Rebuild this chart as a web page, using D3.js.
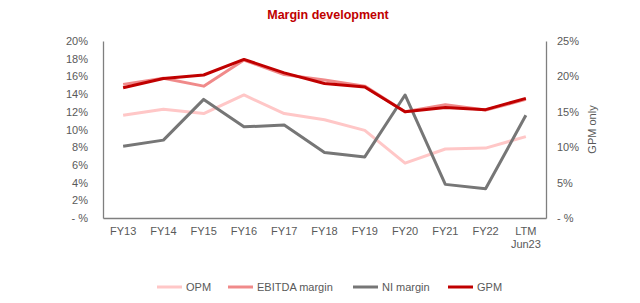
<!DOCTYPE html>
<html>
<head>
<meta charset="utf-8">
<script src="https://cdn.jsdelivr.net/npm/d3@7"></script>
<style>
  html, body { margin: 0; padding: 0; background: #fff; }
  svg { display: block; font-family: "Liberation Sans", Arial, sans-serif; }
</style>
</head>
<body>
<svg id="chart" width="640" height="303"></svg>
<script>
const categories = ["FY13","FY14","FY15","FY16","FY17","FY18","FY19","FY20","FY21","FY22","LTM\nJun23"];
const opm    = [11.6, 12.3, 11.8, 13.9, 11.8, 11.1, 9.9, 6.2, 7.8, 7.9, 9.2];
const ebitda = [15.1, 15.8, 14.9, 17.85, 16.2, 15.6, 14.9, 12.0, 12.8, 12.2, 13.4];
const ni     = [8.1, 8.8, 13.4, 10.3, 10.5, 7.4, 6.9, 13.9, 3.8, 3.3, 11.6];
const gpm    = [18.4, 19.7, 20.2, 22.4, 20.5, 19.0, 18.5, 15.0, 15.6, 15.3, 16.9]; // right axis
const leftTicks  = [0, 2, 4, 6, 8, 10, 12, 14, 16, 18, 20];
const rightTicks = [0, 5, 10, 15, 20, 25];
const seriesNames = ["OPM", "EBITDA margin", "NI margin", "GPM"];

const svg = d3.select("#chart");
const L = 103, R = 546, T = 41, B = 218;
const textColor = "#595959";
const axisColor = "#7f7f7f";

const x = d3.scaleBand().domain(categories).range([L, R]).padding(0);
const cx = c => x(c) + x.bandwidth() / 2;
const yL = d3.scaleLinear().domain([0, 20]).range([B, T]);
const yR = d3.scaleLinear().domain([0, 25]).range([B, T]);
const fmt = v => v === 0 ? "- %" : v + "%";

// title
svg.append("text").attr("x", 328).attr("y", 19).attr("text-anchor", "middle")
  .attr("font-size", 12.5).attr("font-weight", "bold").attr("fill", "#c00000")
  .text("Margin development");

// axes
const gL = svg.append("g").attr("transform", `translate(${L},0)`)
  .call(d3.axisLeft(yL).tickValues(leftTicks).tickFormat(fmt).tickSize(0).tickPadding(15));
const gR = svg.append("g").attr("transform", `translate(${R},0)`)
  .call(d3.axisRight(yR).tickValues(rightTicks).tickFormat(fmt).tickSize(0).tickPadding(11));
const gB = svg.append("g").attr("transform", `translate(0,${B})`)
  .call(d3.axisBottom(x).tickSize(0).tickPadding(9).tickFormat(""));
[gL, gR, gB].forEach(g => {
  g.select(".domain").attr("stroke", axisColor).attr("stroke-width", 1.3);
  g.selectAll("text").attr("fill", textColor).attr("font-size", 11)
    .attr("font-family", "Liberation Sans, Arial, sans-serif");
});
gB.selectAll(".tick").each(function(d) {
  const t = d3.select(this).select("text");
  t.text(null);
  d.split("\n").forEach((s, i) => {
    t.append("tspan").attr("x", 0).attr("dy", i === 0 ? "0.71em" : "1.2em").text(s);
  });
});

// right axis title
svg.append("text").attr("transform", `translate(596,${(T + B) / 2}) rotate(-90)`)
  .attr("text-anchor", "middle").attr("font-size", 11).attr("fill", textColor)
  .text("GPM only");

// lines
const colors = ["#ffc7c7", "#f08a8a", "#767676", "#c00000"];
const datasets = [
  { vals: opm, y: yL },
  { vals: ebitda, y: yL },
  { vals: ni, y: yL },
  { vals: gpm, y: yR }
];
datasets.forEach((ds, i) => {
  const line = d3.line().x((d, j) => cx(categories[j])).y(d => ds.y(d));
  svg.append("path").datum(ds.vals).attr("d", line)
    .attr("fill", "none").attr("stroke", colors[i]).attr("stroke-width", 3)
    .attr("stroke-linejoin", "round");
});

// legend
const legendX = [157, 228, 353, 448];
const ly = 287;
seriesNames.forEach((n, i) => {
  svg.append("line").attr("x1", legendX[i]).attr("x2", legendX[i] + 25)
    .attr("y1", ly).attr("y2", ly).attr("stroke", colors[i]).attr("stroke-width", 3);
  svg.append("text").attr("x", legendX[i] + 29).attr("y", ly + 4)
    .attr("font-size", 11).attr("fill", textColor).text(n);
});
</script>
</body>
</html>
